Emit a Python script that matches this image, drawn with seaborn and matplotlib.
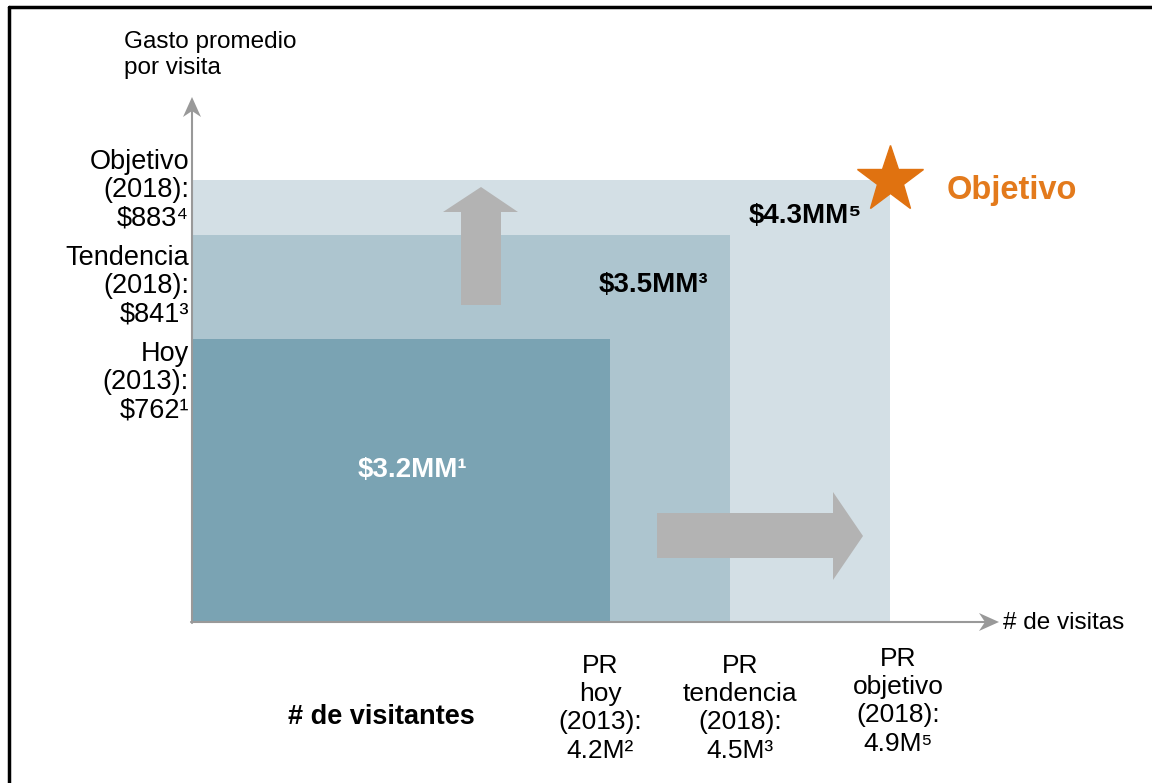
import matplotlib
matplotlib.use('Agg')
import matplotlib.pyplot as plt
import seaborn as sns
from matplotlib.patches import Polygon
from matplotlib.lines import Line2D

# datos del grafico
escenarios = ['Hoy', 'Tendencia', 'Objetivo']
anios = ['2013', '2018', '2018']
visitantes_m = [4.2, 4.5, 4.9]      # millones de visitas
gasto_visita = [762, 841, 883]      # gasto promedio por visita ($)
ingreso_mm = ['3.2', '3.5', '4.3']  # ingreso total ($MM)
nota_gasto = ['¹', '³', '⁴']
nota_visitas = ['²', '³', '⁵']
nota_ingreso = ['¹', '³', '⁵']

colores = ['#7aa3b3', '#adc5cf', '#d3dfe5']
naranja = '#e07210'
gris_flecha = '#b3b3b3'
gris_eje = '#999999'

sns.set_theme(style='white')
plt.rcParams['font.family'] = ['Liberation Sans', 'DejaVu Sans']
plt.rcParams['text.color'] = 'black'

W, H = 1152, 783
fig = plt.figure(figsize=(W / 100, H / 100), dpi=100)

# ejes principales: origen en (192, 622) px, el esquema no es a escala
X0, X1 = 3.154, 5.15
Y0, Y1 = 545.8, 944
ax = fig.add_axes([192 / W, (H - 622) / H, (990 - 192) / W, (622 - 100) / H])
for i in [2, 1, 0]:
    ax.bar(X0, gasto_visita[i] - Y0, width=visitantes_m[i] - X0, bottom=Y0,
           align='edge', color=colores[i], linewidth=0, zorder=1)
ax.plot(visitantes_m[2], gasto_visita[2], marker='*', ms=50, color=naranja,
        mec=naranja, clip_on=False, zorder=5)
ax.set_xlim(X0, X1)
ax.set_ylim(Y0, Y1)
ax.axis('off')

# capa superior en pixeles para flechas y textos
ov = fig.add_axes([0, 0, 1, 1], facecolor='none')
ov.set_xlim(0, W)
ov.set_ylim(H, 0)
ov.axis('off')

# marco
ov.add_line(Line2D([9, W], [7, 7], color='black', lw=2.5, clip_on=False))
ov.add_line(Line2D([9, 9], [7, H], color='black', lw=2.5, clip_on=False))

# ejes con punta de flecha
ov.add_line(Line2D([192, 192], [623, 110], color=gris_eje, lw=1.5))
ov.add_line(Line2D([191, 986], [622, 622], color=gris_eje, lw=1.5))
ov.add_patch(Polygon([(192, 97), (201, 117), (192, 111), (183, 117)],
                     closed=True, color=gris_eje, lw=0))
ov.add_patch(Polygon([(999, 622), (979, 613), (985, 622), (979, 631)],
                     closed=True, color=gris_eje, lw=0))

# flechas grises
arriba = [(461, 305), (501, 305), (501, 212), (518, 212), (481, 187),
          (443, 212), (461, 212)]
derecha = [(657, 513), (833, 513), (833, 492), (863, 536), (833, 580),
           (833, 558), (657, 558)]
ov.add_patch(Polygon(arriba, closed=True, color=gris_flecha, lw=0))
ov.add_patch(Polygon(derecha, closed=True, color=gris_flecha, lw=0))

# titulos de ejes
ov.text(124, 31, 'Gasto promedio\npor visita', fontsize=17.5, ha='left',
        va='top', linespacing=1.22)
ov.text(1003, 623, '# de visitas', fontsize=17.5, ha='left', va='center')
ov.text(381, 717, '# de visitantes', fontsize=19.5, fontweight='bold',
        ha='center', va='center')

# etiquetas del eje y
tops_y = [341, 245, 149]
for i in range(3):
    txt = f'{escenarios[i]}\n({anios[i]}):\n\\${gasto_visita[i]}{nota_gasto[i]}'
    ov.text(189, tops_y[i], txt, fontsize=19.5, ha='right', va='top',
            linespacing=1.12)

# etiquetas del eje x
cx = [600, 740, 898]
tops_x = [654, 654, 647]
for i in range(3):
    txt = (f'PR\n{escenarios[i].lower()}\n({anios[i]}):\n'
           f'{visitantes_m[i]}M{nota_visitas[i]}')
    ov.text(cx[i], tops_x[i], txt, fontsize=19, ha='center', va='top',
            linespacing=1.22)

# ingresos
pos_ing = [(412, 470), (653, 285), (805, 216)]
col_ing = ['white', 'black', 'black']
for i in range(3):
    ov.text(pos_ing[i][0], pos_ing[i][1],
            f'\\${ingreso_mm[i]}MM{nota_ingreso[i]}', fontsize=20,
            fontweight='bold', color=col_ing[i], ha='center', va='center')

ov.text(1012, 190, 'Objetivo', fontsize=23.5, fontweight='bold',
        color='#e37a1c', ha='center', va='center')

fig.savefig('out.png', dpi=100)
